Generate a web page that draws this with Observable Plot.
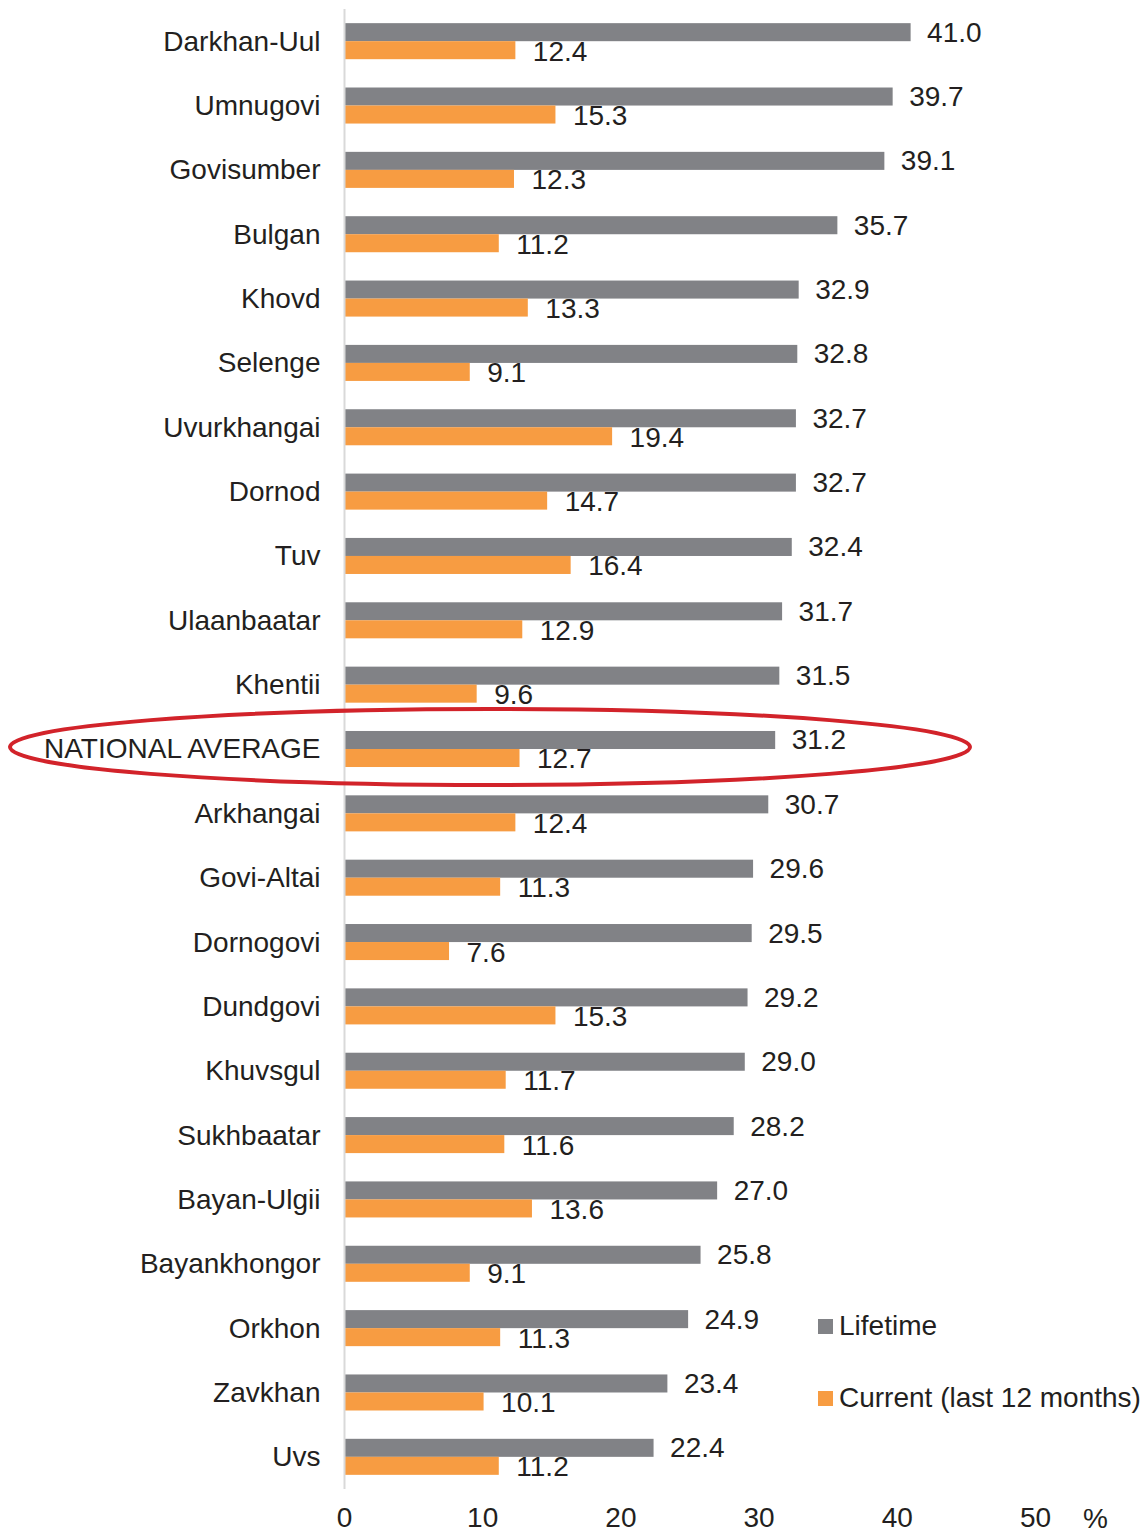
<!DOCTYPE html>
<html>
<head>
<meta charset="utf-8">
<script src="https://cdn.jsdelivr.net/npm/d3@7"></script>
<script src="https://cdn.jsdelivr.net/npm/@observablehq/plot@0.6"></script>
<style>
  html, body { margin: 0; padding: 0; background: #fff; }
  #wrap { position: relative; width: 1148px; height: 1535px; font-family: "Liberation Sans", Arial, sans-serif; color: #231f20; }
  .legend { position: absolute; left: 818px; font-size: 28px; line-height: 1; display: flex; align-items: center; white-space: nowrap; }
  .legend .sw { width: 15px; height: 15px; margin-right: 6px; display: inline-block; }
</style>
</head>
<body>
<div id="wrap"></div>
<script>
const regions = ["Darkhan-Uul","Umnugovi","Govisumber","Bulgan","Khovd","Selenge","Uvurkhangai","Dornod","Tuv","Ulaanbaatar","Khentii","NATIONAL AVERAGE","Arkhangai","Govi-Altai","Dornogovi","Dundgovi","Khuvsgul","Sukhbaatar","Bayan-Ulgii","Bayankhongor","Orkhon","Zavkhan","Uvs"];
const lifetime = [41.0,39.7,39.1,35.7,32.9,32.8,32.7,32.7,32.4,31.7,31.5,31.2,30.7,29.6,29.5,29.2,29.0,28.2,27.0,25.8,24.9,23.4,22.4];
const current = [12.4,15.3,12.3,11.2,13.3,9.1,19.4,14.7,16.4,12.9,9.6,12.7,12.4,11.3,7.6,15.3,11.7,11.6,13.6,9.1,11.3,10.1,11.2];
const xTicks = [0,10,20,30,40,50];
const seriesNames = ["Lifetime","Current (last 12 months)"];
const highlight = "NATIONAL AVERAGE";

const GRAY = "#818286", ORANGE = "#f79c42", INK = "#231f20";
const data = regions.map((r,i) => ({region: r, lifetime: lifetime[i], current: current[i]}));

const plot = Plot.plot({
  width: 1148,
  height: 1535,
  marginLeft: 344,
  marginRight: 113,
  marginTop: 9,
  marginBottom: 46,
  style: {fontFamily: '"Liberation Sans", Arial, sans-serif', fontSize: "28px", color: INK, background: "#fff"},
  x: {domain: [0, 50], ticks: xTicks},
  y: {domain: regions, paddingInner: 0.44, paddingOuter: 0.22, round: false},
  marks: [
    Plot.barX(data, {x: "lifetime", y: "region", fill: GRAY, insetBottom: 18}),
    Plot.barX(data, {x: "current", y: "region", fill: ORANGE, insetTop: 18}),
    Plot.ruleX([0], {stroke: "#d9d9d9", strokeWidth: 2}),
    Plot.text(data, {x: "lifetime", y: "region", text: d => d.lifetime.toFixed(1), dx: 16, dy: -9, textAnchor: "start", fill: INK, fontSize: 28}),
    Plot.text(data, {x: "current", y: "region", text: d => d.current.toFixed(1), dx: 17, dy: 10, textAnchor: "start", fill: INK, fontSize: 28}),
    Plot.axisX({ticks: xTicks, tickSize: 0, tickPadding: 18, label: null, fontSize: 28, fill: INK}),
    Plot.axisY({tickSize: 0, tickPadding: 24, label: null, fontSize: 28, fill: INK}),
    Plot.text(["%"], {frameAnchor: "bottom-right", dx: 60, dy: 30, lineAnchor: "middle", textAnchor: "middle", fill: INK, fontSize: 28, text: d => d})
  ]
});

// red ellipse annotation around the national average row
const ys = plot.scale("y");
const cy = ys.apply(highlight) + ys.bandwidth / 2 - 2;
const ns = "http://www.w3.org/2000/svg";
const ell = document.createElementNS(ns, "ellipse");
ell.setAttribute("cx", 490);
ell.setAttribute("cy", cy);
ell.setAttribute("rx", 480);
ell.setAttribute("ry", 38);
ell.setAttribute("fill", "none");
ell.setAttribute("stroke", "#d2232a");
ell.setAttribute("stroke-width", 4);
plot.appendChild(ell);

const wrap = document.getElementById("wrap");
wrap.appendChild(plot);

// legend
const legendItems = [{name: seriesNames[0], color: GRAY, top: 1312}, {name: seriesNames[1], color: ORANGE, top: 1384}];
for (const it of legendItems) {
  const d = document.createElement("div");
  d.className = "legend";
  d.style.top = it.top + "px";
  d.innerHTML = `<span class="sw" style="background:${it.color}"></span><span>${it.name}</span>`;
  wrap.appendChild(d);
}
</script>
</body>
</html>
